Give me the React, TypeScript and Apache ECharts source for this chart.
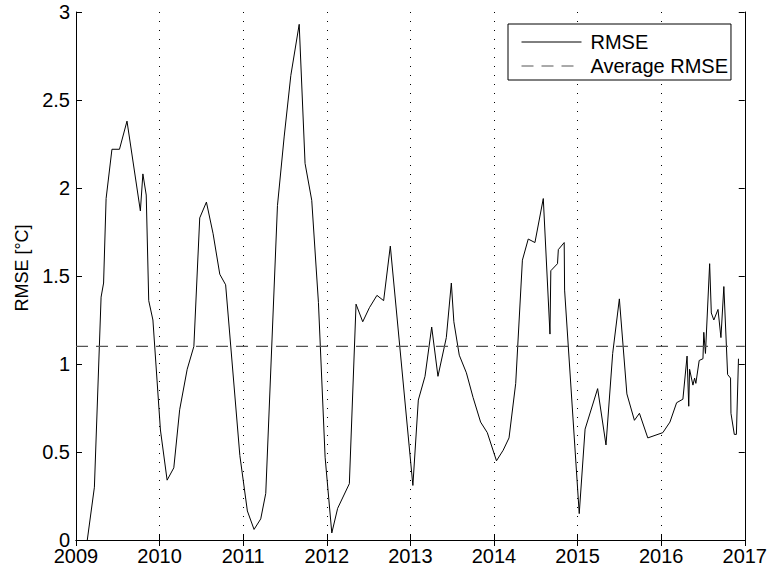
import React, { useEffect, useRef } from "react";
import * as echarts from "echarts";

// Decimal-year time stamps and RMSE values (°C)
const times: number[] = [
  2009.135, 2009.22, 2009.3, 2009.33, 2009.36, 2009.43, 2009.52, 2009.61, 2009.77, 2009.8,
  2009.84, 2009.87, 2009.92, 2010.01, 2010.09, 2010.17, 2010.24, 2010.33, 2010.41, 2010.48,
  2010.56, 2010.64, 2010.72, 2010.79, 2010.96, 2011.05, 2011.13, 2011.21, 2011.27, 2011.41,
  2011.49, 2011.57, 2011.67, 2011.74, 2011.82, 2011.9, 2011.98, 2012.06, 2012.13, 2012.27,
  2012.35, 2012.43, 2012.51, 2012.6, 2012.68, 2012.76, 2013.03, 2013.095, 2013.175, 2013.255,
  2013.33, 2013.43, 2013.49, 2013.52, 2013.585, 2013.67, 2013.75, 2013.84, 2013.92, 2014.03,
  2014.11, 2014.18, 2014.26, 2014.34, 2014.41, 2014.49, 2014.59, 2014.67, 2014.68, 2014.76,
  2014.77, 2014.84, 2014.845, 2015.02, 2015.09, 2015.24, 2015.34, 2015.42, 2015.5, 2015.59,
  2015.68, 2015.74, 2015.84, 2016.02, 2016.105, 2016.185, 2016.26, 2016.31, 2016.33, 2016.34,
  2016.38, 2016.4, 2016.415, 2016.455, 2016.5, 2016.51, 2016.53, 2016.58, 2016.6, 2016.63,
  2016.68, 2016.715, 2016.75, 2016.795, 2016.83, 2016.835, 2016.875, 2016.9, 2016.925,
];

const rmse: number[] = [
  0.0, 0.3, 1.38, 1.46, 1.94, 2.22, 2.22, 2.38, 1.87, 2.08,
  1.96, 1.36, 1.25, 0.625, 0.34, 0.41, 0.74, 0.97, 1.1, 1.83,
  1.92, 1.74, 1.51, 1.45, 0.48, 0.165, 0.06, 0.12, 0.265, 1.9,
  2.29, 2.64, 2.93, 2.14, 1.93, 1.35, 0.47, 0.04, 0.18, 0.32,
  1.34, 1.24, 1.32, 1.39, 1.36, 1.67, 0.31, 0.795, 0.93, 1.21,
  0.93, 1.15, 1.46, 1.24, 1.05, 0.95, 0.81, 0.67, 0.61, 0.45,
  0.51, 0.58, 0.89, 1.59, 1.71, 1.69, 1.94, 1.17, 1.53, 1.57,
  1.65, 1.69, 1.42, 0.15, 0.63, 0.86, 0.54, 1.06, 1.37, 0.83,
  0.68, 0.72, 0.58, 0.61, 0.67, 0.78, 0.8, 1.045, 0.76, 0.97,
  0.88, 0.92, 0.89, 1.02, 1.03, 1.18, 1.06, 1.57, 1.29, 1.25,
  1.31, 1.15, 1.44, 0.94, 0.92, 0.72, 0.6, 0.6, 1.03,
];

const averageRmse = 1.1;
const xRange: number[] = [2009, 2017];
const yRange: number[] = [0, 3];

const seriesNames: string[] = ["RMSE", "Average RMSE"];

const FONT = "'Liberation Sans', Arial, Helvetica, sans-serif";
const TICK_FS = 20;

export default function App() {
  const ref = useRef<HTMLDivElement>(null);

  useEffect(() => {
    if (!ref.current) return;
    const chart = echarts.init(ref.current, undefined, { renderer: "svg" });

    const lineData = times.map((t, i) => [t, rmse[i]]);
    const avgData = [
      [xRange[0], averageRmse],
      [xRange[1], averageRmse],
    ];

    const axisLine = { show: true, lineStyle: { color: "#000", width: 1 } };
    const axisTick = { show: true, inside: true, length: 6, lineStyle: { color: "#000", width: 1 } };

    chart.setOption({
      animation: false,
      backgroundColor: "#fff",
      grid: { left: 76, right: 25, top: 12, bottom: 33, containLabel: false },
      legend: {
        data: seriesNames,
        orient: "vertical",
        left: 508,
        top: 24,
        padding: [6, 3, 2, 13],
        itemWidth: 60,
        itemHeight: 14,
        itemGap: 0,
        backgroundColor: "#fff",
        borderColor: "#000",
        borderWidth: 1,
        borderRadius: 0,
        itemStyle: { opacity: 0, borderWidth: 0 },
        lineStyle: { width: 1 },
        textStyle: {
          fontFamily: FONT,
          fontSize: TICK_FS,
          color: "#000",
          lineHeight: 24,
          padding: [0, 0, 0, 4],
        },
      },
      xAxis: [
        {
          type: "value",
          position: "bottom",
          min: xRange[0],
          max: xRange[1],
          interval: 1,
          axisLine,
          axisTick,
          axisLabel: {
            fontFamily: FONT,
            fontSize: TICK_FS,
            color: "#000",
            margin: 6,
            formatter: (v: number) => String(v),
          },
          splitLine: { show: true, lineStyle: { color: "#000", width: 1, type: [1, 8] } },
        },
        {
          type: "value",
          position: "top",
          min: xRange[0],
          max: xRange[1],
          interval: 1,
          axisLine,
          axisTick,
          axisLabel: { show: false },
          splitLine: { show: false },
        },
      ],
      yAxis: [
        {
          type: "value",
          position: "left",
          min: yRange[0],
          max: yRange[1],
          interval: 0.5,
          axisLine,
          axisTick,
          axisLabel: { fontFamily: FONT, fontSize: TICK_FS, color: "#000", margin: 6 },
          splitLine: { show: false },
          name: "RMSE [°C]",
          nameLocation: "middle",
          nameGap: 45,
          nameRotate: 90,
          nameTextStyle: { fontFamily: FONT, fontSize: 18, color: "#000", padding: [0, 0, 0, 16] },
        },
        {
          type: "value",
          position: "right",
          min: yRange[0],
          max: yRange[1],
          interval: 0.5,
          axisLine,
          axisTick,
          axisLabel: { show: false },
          splitLine: { show: false },
        },
      ],
      series: [
        {
          name: seriesNames[0],
          type: "line",
          data: lineData,
          xAxisIndex: 0,
          yAxisIndex: 0,
          symbol: "none",
          showSymbol: false,
          lineStyle: { color: "#000", width: 1 },
          itemStyle: { color: "#000" },
        },
        {
          name: seriesNames[1],
          type: "line",
          data: avgData,
          xAxisIndex: 0,
          yAxisIndex: 0,
          symbol: "none",
          showSymbol: false,
          lineStyle: { color: "#555", width: 1.2, type: [12, 8] },
          itemStyle: { color: "#555" },
        },
      ],
    });

    return () => chart.dispose();
  }, []);

  return (
    <div
      ref={ref}
      style={{ position: "fixed", left: 0, top: 0, width: 770, height: 573, background: "#fff" }}
    />
  );
}
